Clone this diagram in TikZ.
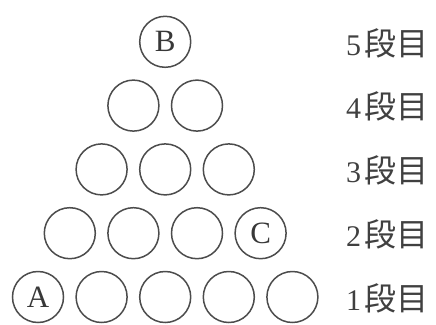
\documentclass[tikz,border=0pt]{standalone}
\usepackage{fontspec}
\setmainfont{Liberation Serif}
\newfontfamily\cjk{Noto Sans CJK JP}
\begin{document}
\begin{tikzpicture}[x=1pt,y=-1pt,
  ball/.style={circle,draw=black!70,line width=1.5pt,minimum size=51pt,inner sep=0pt,
    text=black!78,font=\fontsize{31}{31}\selectfont},
  rowlabel/.style={anchor=base west,inner sep=0pt,text=black!75,
    font=\fontsize{30}{30}\selectfont}]
\useasboundingbox (0,0) rectangle (436,324);
% row 1
\node[ball] (b11) at (38,297) {A};
\node[ball] (b12) at (101.6,297) {};
\node[ball] (b13) at (165.2,297) {};
\node[ball] (b14) at (228.8,297) {};
\node[ball] (b15) at (292.4,297) {};
% row 2
\node[ball] (b21) at (69.8,233.2) {};
\node[ball] (b22) at (133.4,233.2) {};
\node[ball] (b23) at (197,233.2) {};
\node[ball] (b24) at (260.6,233.2) {C};
% row 3
\node[ball] (b31) at (101.6,169.4) {};
\node[ball] (b32) at (165.2,169.4) {};
\node[ball] (b33) at (228.8,169.4) {};
% row 4
\node[ball] (b41) at (133.4,105.6) {};
\node[ball] (b42) at (197,105.6) {};
% row 5
\node[ball] (b51) at (165.2,41.8) {B};
% row labels
\node[rowlabel] (l5) at (346,55) {5\hspace{3pt}{\cjk\fontsize{32}{32}\selectfont 段目}};
\node[rowlabel] (l4) at (346,118.8) {4\hspace{3pt}{\cjk\fontsize{32}{32}\selectfont 段目}};
\node[rowlabel] (l3) at (346,182.6) {3\hspace{3pt}{\cjk\fontsize{32}{32}\selectfont 段目}};
\node[rowlabel] (l2) at (346,246.4) {2\hspace{3pt}{\cjk\fontsize{32}{32}\selectfont 段目}};
\node[rowlabel] (l1) at (346,310) {1\hspace{3pt}{\cjk\fontsize{32}{32}\selectfont 段目}};
\end{tikzpicture}
\end{document}
